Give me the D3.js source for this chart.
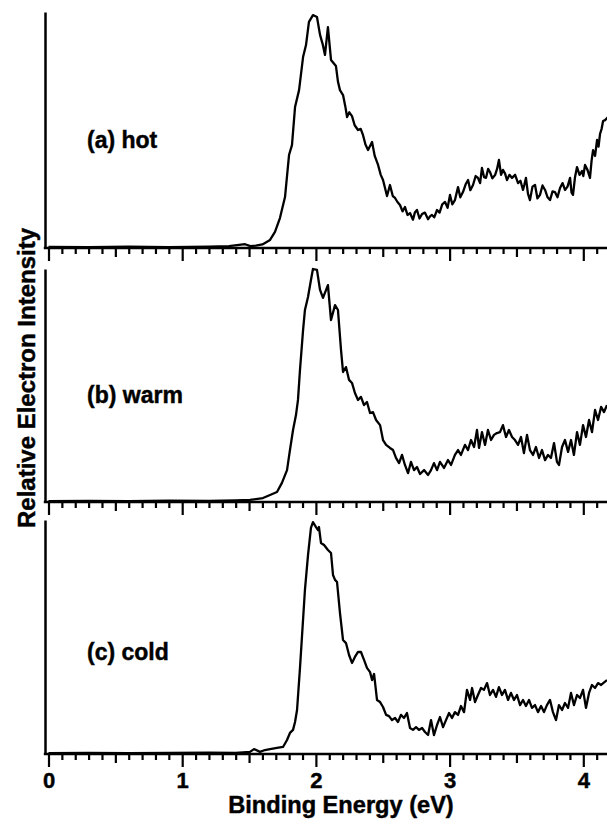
<!DOCTYPE html>
<html>
<head>
<meta charset="utf-8">
<script src="https://cdn.jsdelivr.net/npm/d3@7/dist/d3.min.js"></script>
<style>
  html, body { margin: 0; padding: 0; background: #fff; }
  svg { display: block; }
  text { font-family: "Liberation Sans", Arial, Helvetica, sans-serif; font-weight: bold; fill: #000; stroke: #000; stroke-width: 0.45px; }
</style>
</head>
<body>
<svg id="chart" width="607" height="825"></svg>
<script>
// ---------------- data ----------------
const panelLabels = ["(a) hot", "(b) warm", "(c) cold"];
const majorTickLabels = [0, 1, 2, 3, 4];
const xAxisTitle = "Binding Energy (eV)";
const yAxisTitle = "Relative Electron Intensity";

// [binding energy (eV), relative intensity (% of panel height)]
const hot = [[0,0.5],[0.3,0.4],[0.6,0.6],[0.9,0.4],[1.2,0.6],[1.35,0.8],[1.47,1.6],[1.51,0.8],[1.55,1.0],[1.60,1.5],[1.657,3.4],[1.694,6.8],[1.731,12.7],[1.769,21.6],[1.799,39.4],[1.821,43.6],[1.844,59.7],[1.874,66.9],[1.904,80.9],[1.926,86.0],[1.948,95.8],[1.978,98.7],[2.008,97.9],[2.031,90.3],[2.05,86.5],[2.068,81.8],[2.09,93.6],[2.113,79.7],[2.13,78.5],[2.15,77.1],[2.165,70.5],[2.18,66.9],[2.203,64.8],[2.22,60.0],[2.233,55.5],[2.25,57.5],[2.27,55.9],[2.29,52.0],[2.315,50.0],[2.335,50.5],[2.352,47.9],[2.37,44.0],[2.39,41.5],[2.42,44.9],[2.44,39.0],[2.465,35.2],[2.485,31.0],[2.502,28.8],[2.532,22.0],[2.554,26.7],[2.575,22.0],[2.592,21.2],[2.61,19.5],[2.629,18.2],[2.648,15.5],[2.666,17.4],[2.685,14.0],[2.704,14.8],[2.726,12.0],[2.74,15.0],[2.756,16.1],[2.775,12.5],[2.794,14.4],[2.815,15.0],[2.839,12.2],[2.855,13.5],[2.868,14.0],[2.885,13.0],[2.906,16.1],[2.925,15.0],[2.945,18.5],[2.966,19.5],[2.985,17.0],[3.003,22.5],[3.02,18.5],[3.04,20.3],[3.063,25.8],[3.08,21.5],[3.1,23.7],[3.12,27.0],[3.138,28.8],[3.155,24.5],[3.175,26.7],[3.195,30.5],[3.212,29.7],[3.228,27.5],[3.242,33.9],[3.258,30.0],[3.272,29.7],[3.288,33.5],[3.302,32.2],[3.32,29.5],[3.34,30.9],[3.355,33.5],[3.369,37.3],[3.385,31.0],[3.399,33.1],[3.415,31.5],[3.429,28.8],[3.448,31.0],[3.467,29.7],[3.49,31.0],[3.512,27.5],[3.53,28.5],[3.549,24.6],[3.56,27.0],[3.571,29.7],[3.586,23.0],[3.601,20.3],[3.62,26.0],[3.639,26.7],[3.657,21.0],[3.676,22.5],[3.695,26.5],[3.714,24.6],[3.733,21.5],[3.751,20.3],[3.77,24.0],[3.788,23.7],[3.807,21.5],[3.826,25.4],[3.845,27.5],[3.863,24.6],[3.882,26.0],[3.901,29.7],[3.912,23.5],[3.923,22.5],[3.938,30.0],[3.953,34.3],[3.972,31.0],[3.99,32.6],[4.0,30.5],[4.013,35.2],[4.032,33.0],[4.05,29.7],[4.062,37.0],[4.073,41.5],[4.088,39.0],[4.103,45.8],[4.114,43.0],[4.125,48.3],[4.137,50.5],[4.148,53.8],[4.163,54.2],[4.185,55.5]];

const warm = [[0,0.4],[0.3,0.5],[0.6,0.4],[0.9,0.6],[1.2,0.5],[1.4,0.7],[1.507,0.9],[1.604,1.7],[1.657,3.0],[1.709,4.3],[1.746,8.2],[1.784,13.7],[1.806,22.3],[1.829,30.9],[1.851,37.3],[1.866,43.8],[1.881,56.7],[1.904,73.8],[1.918,82.4],[1.941,88.0],[1.963,95.3],[1.978,100],[2.008,99.6],[2.031,91.0],[2.053,87.6],[2.09,93.1],[2.113,78.1],[2.143,84.5],[2.165,82.4],[2.188,65.2],[2.203,55.8],[2.225,57.9],[2.248,52.4],[2.270,51.1],[2.292,46.8],[2.315,43.8],[2.337,45.1],[2.360,41.6],[2.382,42.9],[2.405,38.2],[2.427,38.6],[2.450,35.2],[2.480,33.0],[2.502,26.6],[2.525,24.5],[2.554,23.2],[2.577,22.3],[2.599,18.9],[2.622,16.7],[2.644,20.2],[2.666,15.9],[2.689,12.4],[2.711,17.2],[2.734,13.7],[2.756,15.0],[2.779,12.0],[2.809,13.7],[2.839,11.6],[2.861,13.7],[2.883,16.7],[2.906,13.7],[2.928,17.2],[2.958,14.6],[2.988,18.0],[3.011,15.9],[3.040,20.2],[3.063,22.3],[3.085,20.2],[3.115,24.5],[3.138,22.3],[3.160,26.6],[3.183,23.6],[3.205,30.9],[3.220,23.2],[3.242,30.0],[3.265,24.5],[3.287,30.9],[3.310,26.6],[3.332,28.8],[3.354,29.6],[3.377,30.0],[3.399,33.0],[3.422,27.9],[3.444,30.9],[3.467,27.9],[3.489,26.6],[3.512,24.5],[3.534,27.9],[3.556,21.0],[3.579,28.8],[3.601,22.3],[3.624,20.2],[3.646,23.6],[3.669,18.9],[3.691,22.3],[3.714,18.0],[3.736,20.2],[3.758,18.9],[3.781,25.3],[3.803,17.2],[3.818,15.9],[3.841,23.6],[3.863,26.6],[3.886,21.5],[3.908,26.6],[3.930,20.2],[3.953,30.0],[3.975,24.5],[3.998,33.0],[4.020,27.9],[4.043,35.2],[4.065,30.0],[4.088,39.5],[4.110,35.2],[4.133,40.8],[4.155,38.6],[4.177,41.6]];

const cold = [[0,0.4],[0.3,0.5],[0.6,0.4],[0.9,0.5],[1.2,0.6],[1.4,0.5],[1.507,0.9],[1.537,2.1],[1.582,0.9],[1.619,1.7],[1.657,2.1],[1.709,2.6],[1.754,3.0],[1.784,6.0],[1.806,9.0],[1.829,10.3],[1.844,13.7],[1.859,18.8],[1.881,36.8],[1.918,70.1],[1.941,85.0],[1.963,96.6],[1.978,99.1],[2.001,97.0],[2.016,95.7],[2.023,97.0],[2.038,90.2],[2.061,89.3],[2.090,87.2],[2.113,85.9],[2.128,76.5],[2.143,74.4],[2.158,73.5],[2.180,60.3],[2.203,48.7],[2.225,47.4],[2.248,42.3],[2.270,38.9],[2.292,41.5],[2.315,43.6],[2.337,43.6],[2.360,40.2],[2.382,36.8],[2.405,35.0],[2.420,31.6],[2.435,34.2],[2.457,23.1],[2.480,22.2],[2.502,20.1],[2.525,16.7],[2.547,16.2],[2.569,14.5],[2.592,15.4],[2.614,13.7],[2.636,16.7],[2.659,15.4],[2.681,17.5],[2.704,11.1],[2.726,10.3],[2.749,11.5],[2.771,10.3],[2.794,11.1],[2.816,9.4],[2.839,8.1],[2.861,14.5],[2.883,8.1],[2.906,12.4],[2.928,15.8],[2.951,11.5],[2.973,14.5],[2.996,17.5],[3.018,15.4],[3.040,17.9],[3.063,16.7],[3.085,20.5],[3.108,17.9],[3.130,27.4],[3.153,23.1],[3.168,28.2],[3.190,22.2],[3.212,25.2],[3.235,28.2],[3.257,27.4],[3.280,30.3],[3.302,25.2],[3.325,27.4],[3.347,24.4],[3.369,28.6],[3.392,25.2],[3.414,27.4],[3.437,23.1],[3.459,26.1],[3.482,23.1],[3.504,25.2],[3.527,20.9],[3.549,23.1],[3.571,20.5],[3.594,23.1],[3.616,19.7],[3.639,20.9],[3.661,17.9],[3.684,20.5],[3.706,17.9],[3.728,20.9],[3.751,23.1],[3.773,17.9],[3.796,14.5],[3.818,20.9],[3.841,18.8],[3.863,21.8],[3.886,19.7],[3.908,26.1],[3.930,20.9],[3.953,25.2],[3.975,23.9],[3.998,27.4],[4.020,19.7],[4.043,26.1],[4.065,29.5],[4.088,28.2],[4.110,30.3],[4.133,29.5],[4.177,31.6]];

const seriesList = [hot, warm, cold];

// ---------------- layout ----------------
const svg = d3.select("#chart");
const xLeft = 45;           // position of the vertical axis
const panels = [
  { top: 12,  bottom: 248 },
  { top: 269, bottom: 502 },
  { top: 520, bottom: 754 }
];

const x = d3.scaleLinear().domain([0, 4.2]).range([48.5, 48.5 + 133.7 * 4.2]);
const minorTicks = d3.range(0, 43).map(i => i / 10);

const line = d3.line().curve(d3.curveLinear);

panels.forEach((p, i) => {
  const y = d3.scaleLinear().domain([0, 100]).range([p.bottom, p.top]);
  const g = svg.append("g");

  // vertical axis line
  g.append("g")
    .attr("transform", `translate(${xLeft},0)`)
    .call(d3.axisLeft(y).tickValues([]).tickSizeOuter(0))
    .call(s => s.select(".domain").attr("stroke", "#000").attr("stroke-width", 2.5));

  // bottom axis with minor/major ticks
  const ax = g.append("g")
    .attr("transform", `translate(0,${p.bottom})`)
    .call(d3.axisBottom(x).tickValues(minorTicks).tickFormat("").tickSizeOuter(0));
  ax.select(".domain").remove();
  ax.selectAll(".tick line")
    .attr("stroke", "#000")
    .attr("stroke-width", 2.2)
    .attr("y2", d => {
      const k = Math.round(d * 10);
      if (k % 10 === 0) return 13;
      if (k % 5 === 0) return 9;
      return 6;
    });
  g.append("line")
    .attr("x1", xLeft - 1.2).attr("x2", 607)
    .attr("y1", p.bottom).attr("y2", p.bottom)
    .attr("stroke", "#000").attr("stroke-width", 2.6);

  // spectrum
  const lineFn = line.x(d => x(d[0])).y(d => y(d[1]));
  g.append("path")
    .datum(seriesList[i])
    .attr("fill", "none")
    .attr("stroke", "#000")
    .attr("stroke-width", 2.3)
    .attr("stroke-linejoin", "round")
    .attr("d", lineFn);

  // panel label
  const labelY = [148, 403, 660][i];
  g.append("text")
    .attr("x", 87).attr("y", labelY)
    .style("font-size", "23px")
    .text(panelLabels[i]);

  // tick labels on bottom panel only
  if (i === panels.length - 1) {
    const lab = g.append("g")
      .attr("transform", `translate(0,${p.bottom})`)
      .call(d3.axisBottom(x).tickValues(majorTickLabels).tickFormat(d3.format("d")).tickSize(0));
    lab.select(".domain").remove();
    lab.selectAll(".tick text")
      .attr("y", 34).attr("dy", 0)
      .style("font-size", "22px")
      .style("font-family", "'Liberation Sans', Arial, Helvetica, sans-serif")
      .style("font-weight", "bold")
      .attr("fill", "#000");
  }
});

// axis titles
svg.append("text")
  .attr("x", 341).attr("y", 813)
  .attr("text-anchor", "middle")
  .style("font-size", "23.6px")
  .text(xAxisTitle);

svg.append("text")
  .attr("transform", "translate(35,378) rotate(-90)")
  .attr("text-anchor", "middle")
  .style("font-size", "24px")
  .text(yAxisTitle);
</script>
</body>
</html>
